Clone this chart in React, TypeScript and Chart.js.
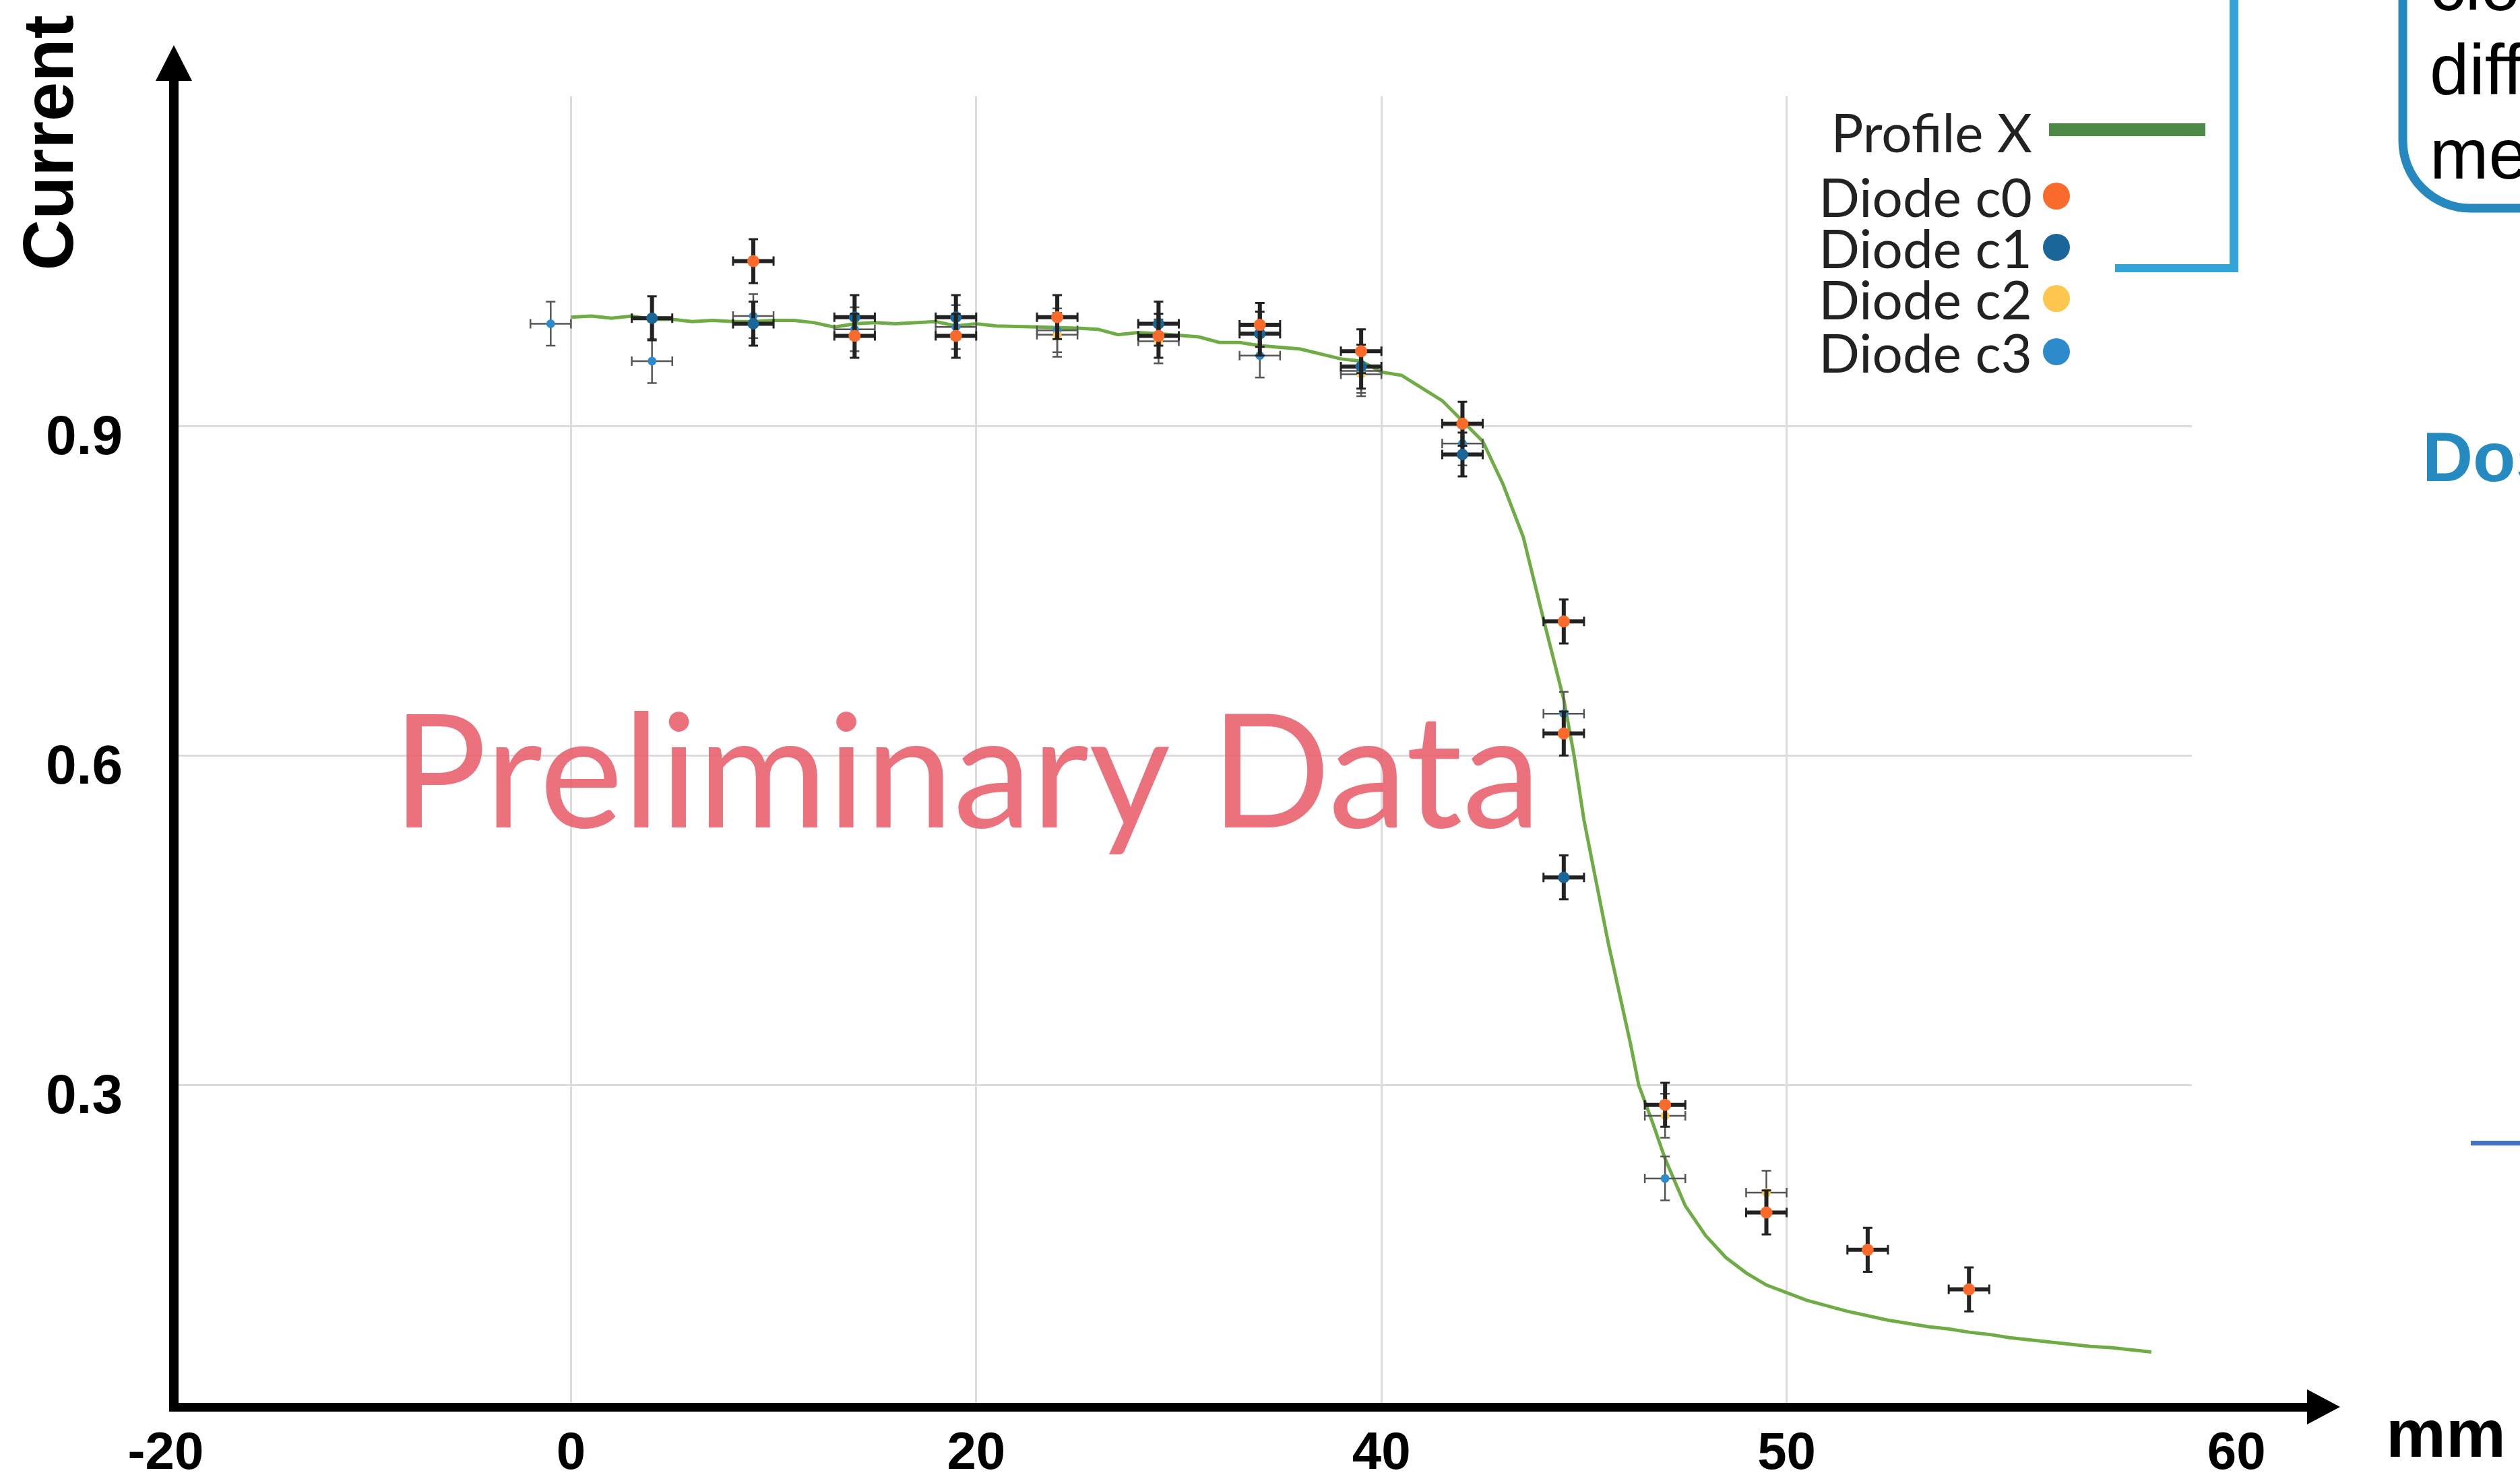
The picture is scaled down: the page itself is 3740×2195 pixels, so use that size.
import React, { useEffect, useRef } from 'react';
import { Chart, registerables } from 'chart.js';

Chart.register(...registerables);

const W = 3740;
const H = 2195;

// Axis ranges and grid/tick values
const X_MIN = -19.6;
const X_MAX = 80;
const Y_MIN = 0.007;
const Y_MAX = 1.2;
const X_GRID = [0, 20, 40, 60];
const Y_GRID = [0.3, 0.6, 0.9];
const X_TICK_AT = [-20, 0, 20, 40, 60, 82.2];
const X_TICK_LABELS = ['-20', '0', '20', '40', '50', '60'];
const Y_TICK_LABELS = ['0.3', '0.6', '0.9'];

// Beam profile scan
const PROFILE_X = [
  0, 1, 2, 3, 4, 5, 6, 7, 8, 9, 10, 11, 12, 13, 14, 15, 16, 18, 19, 20, 21, 23, 25, 26, 27,
  28, 29, 31, 32, 33, 34, 36, 38, 39, 40, 41, 43, 45, 46, 47, 48, 49, 49.5, 50, 51.2, 52.3,
  52.7, 53.4, 54, 55, 56, 57, 58, 59, 61, 63, 65, 67, 68, 69, 70, 71, 73, 75, 76, 78,
];
const PROFILE_Y = [
  0.999, 1.0, 0.998, 1.0, 0.997, 0.997, 0.995, 0.996, 0.995, 0.995, 0.996, 0.996, 0.994, 0.99,
  0.993, 0.994, 0.993, 0.995, 0.991, 0.993, 0.991, 0.99, 0.989, 0.988, 0.983, 0.985, 0.984,
  0.981, 0.976, 0.976, 0.973, 0.97, 0.961, 0.959, 0.949, 0.946, 0.923, 0.886, 0.847, 0.799,
  0.724, 0.651, 0.601, 0.541, 0.429, 0.337, 0.3, 0.265, 0.233, 0.19, 0.163, 0.143, 0.129, 0.118,
  0.104, 0.094, 0.086, 0.08, 0.078, 0.075, 0.073, 0.07, 0.066, 0.062, 0.061, 0.057,
];

// Diode readings
const C0_X = [9, 14, 19, 24, 29, 34, 39, 44, 49, 49, 54, 59, 64, 69];
const C0_Y = [1.05, 0.982, 0.982, 0.999, 0.982, 0.992, 0.968, 0.902, 0.722, 0.62, 0.282, 0.184, 0.15, 0.114];
const C1_X = [4, 9, 14, 19, 29, 34, 39, 44, 49];
const C1_Y = [0.998, 0.993, 0.999, 0.999, 0.993, 0.984, 0.954, 0.874, 0.489];
const C2_X = [24, 29, 39, 54, 59];
const C2_Y = [0.983, 0.977, 0.947, 0.272, 0.202];
const C3_X = [-1, 4, 9, 14, 19, 24, 34, 39, 44, 49, 54];
const C3_Y = [0.993, 0.959, 1.0, 0.988, 0.99, 0.987, 0.964, 0.95, 0.884, 0.638, 0.215];

// Position and reading uncertainties
const X_ERR = 1.0;
const Y_ERR = 0.02;

const SERIES_NAMES = ['Diode c0', 'Diode c1', 'Diode c2', 'Diode c3'];
const SERIES_COLORS = ['#F96A2B', '#1A6699', '#FDC74F', '#2E8BCB'];
const PROFILE_NAME = 'Profile X';
const PROFILE_COLOR = '#6FAC46';
const PROFILE_LEGEND_COLOR = '#4E8A47';

const pts = (xs: number[], ys: number[]) => xs.map((x, i) => ({ x, y: ys[i] }));

const THICK = { color: '#222222', bar: 6, cap: 3, capHalf: 7 };
const THIN = { color: '#555555', bar: 2.5, cap: 2.5, capHalf: 7 };

const errorBars = {
  id: 'errorBars',
  beforeDatasetDraw(chart: any, args: any) {
    const ds = chart.data.datasets[args.index];
    const st = ds.errStyle;
    if (!st) return;
    const xs = chart.scales.x;
    const ys = chart.scales.y;
    const ctx = chart.ctx;
    ctx.save();
    ctx.strokeStyle = st.color;
    ctx.lineCap = 'butt';
    for (const p of ds.data) {
      const px = xs.getPixelForValue(p.x);
      const py = ys.getPixelForValue(p.y);
      const x0 = xs.getPixelForValue(p.x - X_ERR);
      const x1 = xs.getPixelForValue(p.x + X_ERR);
      const y0 = ys.getPixelForValue(p.y + Y_ERR);
      const y1 = ys.getPixelForValue(p.y - Y_ERR);
      ctx.lineWidth = st.bar;
      ctx.beginPath();
      ctx.moveTo(x0, py);
      ctx.lineTo(x1, py);
      ctx.moveTo(px, y0);
      ctx.lineTo(px, y1);
      ctx.stroke();
      ctx.lineWidth = st.cap;
      ctx.beginPath();
      ctx.moveTo(x0, py - st.capHalf);
      ctx.lineTo(x0, py + st.capHalf);
      ctx.moveTo(x1, py - st.capHalf);
      ctx.lineTo(x1, py + st.capHalf);
      ctx.moveTo(px - st.capHalf, y0);
      ctx.lineTo(px + st.capHalf, y0);
      ctx.moveTo(px - st.capHalf, y1);
      ctx.lineTo(px + st.capHalf, y1);
      ctx.stroke();
    }
    ctx.restore();
  },
};

const decor = {
  id: 'decor',
  afterDraw(chart: any) {
    const ctx = chart.ctx as CanvasRenderingContext2D;
    const xs = chart.scales.x;
    const ys = chart.scales.y;
    const ax = xs.getPixelForValue(X_MIN);
    const ay = ys.getPixelForValue(Y_MIN);
    ctx.save();

    // watermark
    ctx.fillStyle = 'rgba(232, 92, 104, 0.87)';
    ctx.font = '234px Lato';
    ctx.textAlign = 'left';
    ctx.textBaseline = 'alphabetic';
    ctx.fillText('Preliminary Data', 582, 1228);

    // axes with arrow heads
    ctx.fillStyle = '#000';
    ctx.fillRect(ax - 7, 118, 14, ay + 7 - 118);
    ctx.beginPath();
    ctx.moveTo(ax, 67);
    ctx.lineTo(ax - 27, 120);
    ctx.lineTo(ax + 27, 120);
    ctx.closePath();
    ctx.fill();
    ctx.fillRect(ax - 7, ay - 6, 3428 - (ax - 7), 13);
    ctx.beginPath();
    ctx.moveTo(3473, ay);
    ctx.lineTo(3424, ay - 26);
    ctx.lineTo(3424, ay + 26);
    ctx.closePath();
    ctx.fill();

    // tick labels
    ctx.font = 'bold 78px "Liberation Sans"';
    ctx.textAlign = 'center';
    X_TICK_AT.forEach((v, i) => {
      ctx.fillText(X_TICK_LABELS[i], xs.getPixelForValue(v), 2180);
    });
    ctx.font = 'bold 82px "Liberation Sans"';
    Y_GRID.forEach((v, i) => {
      ctx.fillText(Y_TICK_LABELS[i], 125, ys.getPixelForValue(v) + 42);
    });

    // axis titles
    ctx.font = 'bold 100px "Liberation Sans"';
    ctx.textAlign = 'left';
    ctx.fillText('mm', 3541, 2162);
    ctx.save();
    ctx.translate(108, 212);
    ctx.rotate(-Math.PI / 2);
    ctx.font = 'bold 105px "Liberation Sans"';
    ctx.textAlign = 'center';
    ctx.fillText('Current', 0, 0);
    ctx.restore();

    // legend
    ctx.font = '80px Lato';
    ctx.textAlign = 'right';
    ctx.fillStyle = '#222';
    ctx.fillText(PROFILE_NAME, 3016, 226);
    ctx.fillStyle = PROFILE_LEGEND_COLOR;
    ctx.fillRect(3041, 183, 232, 19);
    const rowBase = [322, 398, 474, 553];
    SERIES_NAMES.forEach((name, i) => {
      ctx.fillStyle = '#222';
      ctx.fillText(name, 3016, rowBase[i]);
      ctx.fillStyle = SERIES_COLORS[i];
      ctx.beginPath();
      ctx.arc(3052, rowBase[i] - 31, 20, 0, Math.PI * 2);
      ctx.fill();
    });

    // bracket
    ctx.fillStyle = '#33A3DA';
    ctx.fillRect(3309, 0, 13, 404);
    ctx.fillRect(3139, 392, 183, 12);

    // callout box
    ctx.strokeStyle = '#2589C0';
    ctx.lineWidth = 13;
    ctx.beginPath();
    ctx.roundRect(3566, -300, 600, 609, 100);
    ctx.stroke();
    ctx.fillStyle = '#000';
    ctx.font = '105px "Liberation Sans"';
    ctx.textAlign = 'left';
    ctx.fillText('clo', 3606, 15);
    ctx.fillText('diff', 3606, 140);
    ctx.fillText('me', 3606, 265);

    ctx.fillStyle = '#258AC0';
    ctx.font = 'bold 104px "Liberation Sans"';
    ctx.fillText('Dos', 3595, 714);

    ctx.fillStyle = '#4472C4';
    ctx.fillRect(3667, 1693, 80, 7);

    ctx.restore();
  },
};

export default function App() {
  const ref = useRef<HTMLCanvasElement | null>(null);

  useEffect(() => {
    if (!ref.current) return;
    const scatter = (i: number, xs: number[], ys: number[], r: number, st: any, order: number) => ({
      type: 'scatter',
      label: SERIES_NAMES[i],
      data: pts(xs, ys),
      backgroundColor: SERIES_COLORS[i],
      borderWidth: 0,
      pointRadius: r,
      pointBorderWidth: 0,
      showLine: false,
      errStyle: st,
      order,
    });
    const chart = new Chart(ref.current, {
      type: 'scatter',
      data: {
        datasets: [
          {
            type: 'line',
            label: PROFILE_NAME,
            data: pts(PROFILE_X, PROFILE_Y),
            borderColor: PROFILE_COLOR,
            borderWidth: 5,
            pointRadius: 0,
            tension: 0,
            fill: false,
            order: 5,
          } as any,
          scatter(0, C0_X, C0_Y, 9, THICK, 1),
          scatter(1, C1_X, C1_Y, 8.5, THICK, 2),
          scatter(2, C2_X, C2_Y, 6.5, THIN, 3),
          scatter(3, C3_X, C3_Y, 6.5, THIN, 4),
        ],
      },
      options: {
        responsive: false,
        animation: false,
        devicePixelRatio: 1,
        layout: { padding: { left: 258, right: W - 3253, top: 143, bottom: H - 2088 } },
        plugins: { legend: { display: false }, tooltip: { enabled: false } },
        scales: {
          x: {
            type: 'linear',
            min: X_MIN,
            max: X_MAX,
            afterBuildTicks: (s: any) => {
              s.ticks = X_GRID.map((v) => ({ value: v }));
            },
            afterFit: (s: any) => {
              s.height = 0;
            },
            ticks: { display: false },
            grid: { color: '#DCDCDC', lineWidth: 3, drawTicks: false },
            border: { display: false },
          },
          y: {
            type: 'linear',
            min: Y_MIN,
            max: Y_MAX,
            afterBuildTicks: (s: any) => {
              s.ticks = Y_GRID.map((v) => ({ value: v }));
            },
            afterFit: (s: any) => {
              s.width = 0;
            },
            ticks: { display: false },
            grid: { color: '#DCDCDC', lineWidth: 3, drawTicks: false },
            border: { display: false },
          },
        },
      } as any,
      plugins: [errorBars, decor],
    });
    return () => chart.destroy();
  }, []);

  return (
    <div
      style={{
        position: 'fixed',
        left: 0,
        top: 0,
        width: W,
        height: H,
        overflow: 'hidden',
        background: '#fff',
      }}
    >
      <canvas ref={ref} width={W} height={H} style={{ display: 'block' }} />
    </div>
  );
}
